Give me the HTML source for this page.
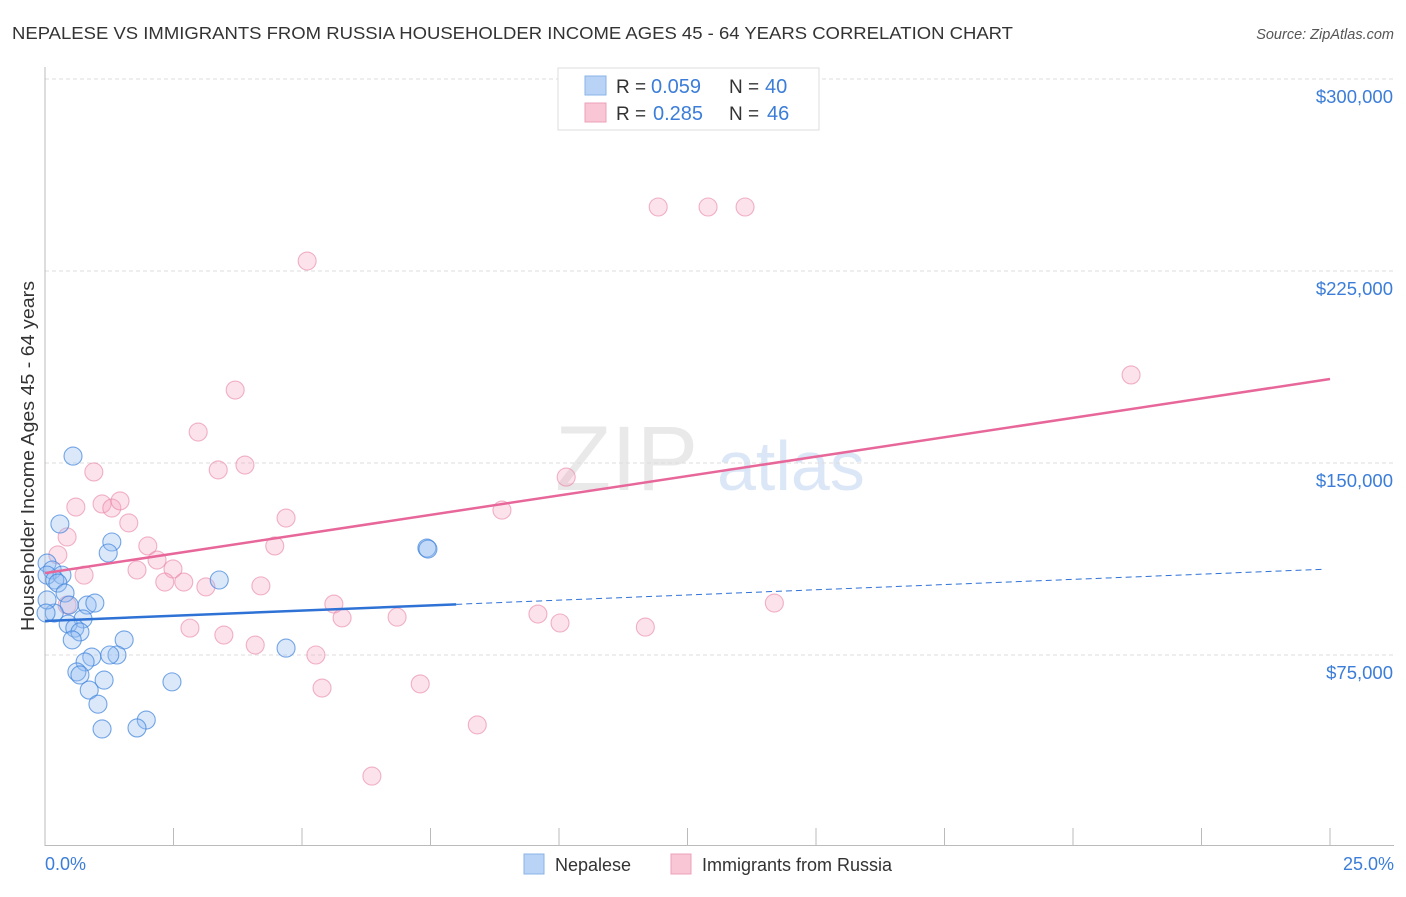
<!DOCTYPE html>
<html><head><meta charset="utf-8"><style>
body{margin:0;background:#fff;font-family:"Liberation Sans",sans-serif}
svg text{font-family:"Liberation Sans",sans-serif}
</style></head><body>
<svg id="c" width="1406" height="892">
<text x="12" y="39" font-size="17.5" fill="#333" textLength="1001" lengthAdjust="spacingAndGlyphs">NEPALESE VS IMMIGRANTS FROM RUSSIA HOUSEHOLDER INCOME AGES 45 - 64 YEARS CORRELATION CHART</text>
<text x="1394" y="39" font-size="14.5" fill="#555" font-style="italic" text-anchor="end">Source: ZipAtlas.com</text>
<g opacity="0.18">
<text x="555" y="490" font-family="Liberation Serif,serif" font-size="92" fill="#888">ZIP</text>
<text x="717" y="490" font-size="70" fill="#3b7dd8">atlas</text>
</g>
<g id="grid"></g>
<line x1="45" y1="67" x2="45" y2="846" stroke="#bbb"/>
<line x1="45" y1="845.5" x2="1394" y2="845.5" stroke="#bbb"/>
<g id="pts"></g>
<g id="trend"></g>
<text x="45" y="870" font-size="18" fill="#3b7dd8">0.0%</text>
<text x="1394" y="870" font-size="18" fill="#3b7dd8" text-anchor="end">25.0%</text>
<text transform="translate(34,456) rotate(-90)" font-size="18" fill="#333" text-anchor="middle" textLength="350" lengthAdjust="spacingAndGlyphs">Householder Income Ages 45 - 64 years</text>
<g>
<rect x="558" y="68" width="261" height="62" fill="#fff" stroke="#ddd"/>
<rect x="585" y="76" width="21" height="19" fill="#b8d3f5" stroke="#8ab3e8"/>
<rect x="585" y="103" width="21" height="19" fill="#f8c6d5" stroke="#eea0b8"/>
<text x="616" y="93" font-size="19" fill="#333">R =</text>
<text x="651" y="93" font-size="20" fill="#3b7dd8">0.059</text>
<text x="729" y="93" font-size="19" fill="#333">N =</text>
<text x="765" y="93" font-size="20" fill="#3b7dd8">40</text>
<text x="616" y="120" font-size="19" fill="#333">R =</text>
<text x="653" y="120" font-size="20" fill="#3b7dd8">0.285</text>
<text x="729" y="120" font-size="19" fill="#333">N =</text>
<text x="767" y="120" font-size="20" fill="#3b7dd8">46</text>
</g>
<g>
<rect x="524" y="854" width="20" height="20" fill="#b8d3f5" stroke="#8ab3e8"/>
<text x="555" y="871" font-size="18" fill="#333">Nepalese</text>
<rect x="671" y="854" width="20" height="20" fill="#f8c6d5" stroke="#eea0b8"/>
<text x="702" y="871" font-size="18" fill="#333">Immigrants from Russia</text>
</g>
</svg>
<script>
const yTicks=[75000,150000,225000,300000];
const yTickLabels=["$75,000","$150,000","$225,000","$300,000"];
const xTicks=[0,2.5,5,7.5,10,12.5,15,17.5,20,22.5,25];
const nepX=[0.545,0.29,1.30,1.23,3.39,0.04,0.14,0.04,0.33,0.19,0.25,0.39,0.47,0.82,0.97,0.18,0.74,0.45,0.58,0.68,0.53,1.54,1.40,1.26,0.91,0.78,0.62,0.68,1.15,2.47,0.86,1.03,1.97,1.79,1.11,4.69,7.43,7.45,0.04,0.02];
const nepY=[152700,126170,119140,114840,104300,110900,108200,106200,106200,104300,103100,99200,94500,94500,95300,91400,89100,87100,85500,84000,80900,80900,75000,75000,74200,72300,68400,67200,65200,64500,61300,55800,49600,46500,46100,77700,116800,116400,96500,91400];
const rusX=[11.93,12.90,13.62,5.10,21.13,3.70,2.98,0.95,3.37,3.89,10.14,0.60,1.11,1.30,1.46,8.89,4.69,1.63,0.43,0.25,2.00,4.47,0.76,1.79,2.18,2.49,2.33,2.70,3.13,4.20,0.43,5.62,14.19,5.78,6.85,9.59,10.02,11.68,2.82,3.48,4.09,5.27,5.39,7.30,8.41,6.36];
const rusY=[250000,250000,250000,228900,184400,178500,162100,146500,147300,149200,144500,132800,134000,132400,135200,131600,128500,126600,121100,114100,117600,117600,106200,108200,112100,108600,103500,103500,101600,102000,94500,94900,95300,89500,89800,91000,87500,85900,85500,82800,78900,75000,62100,63700,47700,27700];
const nepTrend=[88300,108600];
const rusTrend=[107000,182800];
const NS="http://www.w3.org/2000/svg";
const X=v=>45+v/25*1285;
const Y=v=>655-(v-75000)*576/225000;
function mk(t,a,p){const e=document.createElementNS(NS,t);for(const k in a)e.setAttribute(k,a[k]);p.appendChild(e);return e;}
const grid=document.getElementById('grid');
yTicks.forEach((t,i)=>{
 const l=mk('line',{x1:45,x2:1394,y1:Y(t),y2:Y(t),stroke:'#ddd','stroke-dasharray':'4,3'},grid);
 
 
 const tx=mk('text',{x:1393,y:Y(t)+24,'font-size':18.5,fill:'#3b7dd8','text-anchor':'end'},grid);
 tx.textContent=yTickLabels[i];
 
 
});
xTicks.forEach(t=>{
 const l=mk('line',{x1:X(t),x2:X(t),y1:828,y2:845,stroke:'#bbb'},grid);
 
 
});
const pts=document.getElementById('pts');
rusX.forEach((x,i)=>{
 const c=mk('circle',{cx:X(x),cy:Y(rusY[i]),r:9,fill:'rgba(244,160,188,0.3)',stroke:'rgba(232,130,165,0.6)','stroke-width':1.1},pts);
 
 
});
nepX.forEach((x,i)=>{
 const c=mk('circle',{cx:X(x),cy:Y(nepY[i]),r:9,fill:'rgba(150,190,240,0.35)',stroke:'rgba(60,130,220,0.7)','stroke-width':1.1},pts);
 
 
});
const tr=document.getElementById('trend');
const nv=x=>nepTrend[0]+(nepTrend[1]-nepTrend[0])*x/25;
const rv=x=>rusTrend[0]+(rusTrend[1]-rusTrend[0])*x/25;
let a=mk('line',{x1:X(0),y1:Y(nv(0)),x2:X(8),y2:Y(nv(8)),stroke:'#2f72d6','stroke-width':2.5},tr);


a=mk('line',{x1:X(8),y1:Y(nv(8)),x2:X(24.9),y2:Y(nv(24.9)),stroke:'#2f72d6','stroke-width':1,'stroke-dasharray':'6,4'},tr);


a=mk('line',{x1:X(0),y1:Y(rv(0)),x2:X(25),y2:Y(rv(25)),stroke:'#e8679a','stroke-width':2.5},tr);


</script>
</body></html>
